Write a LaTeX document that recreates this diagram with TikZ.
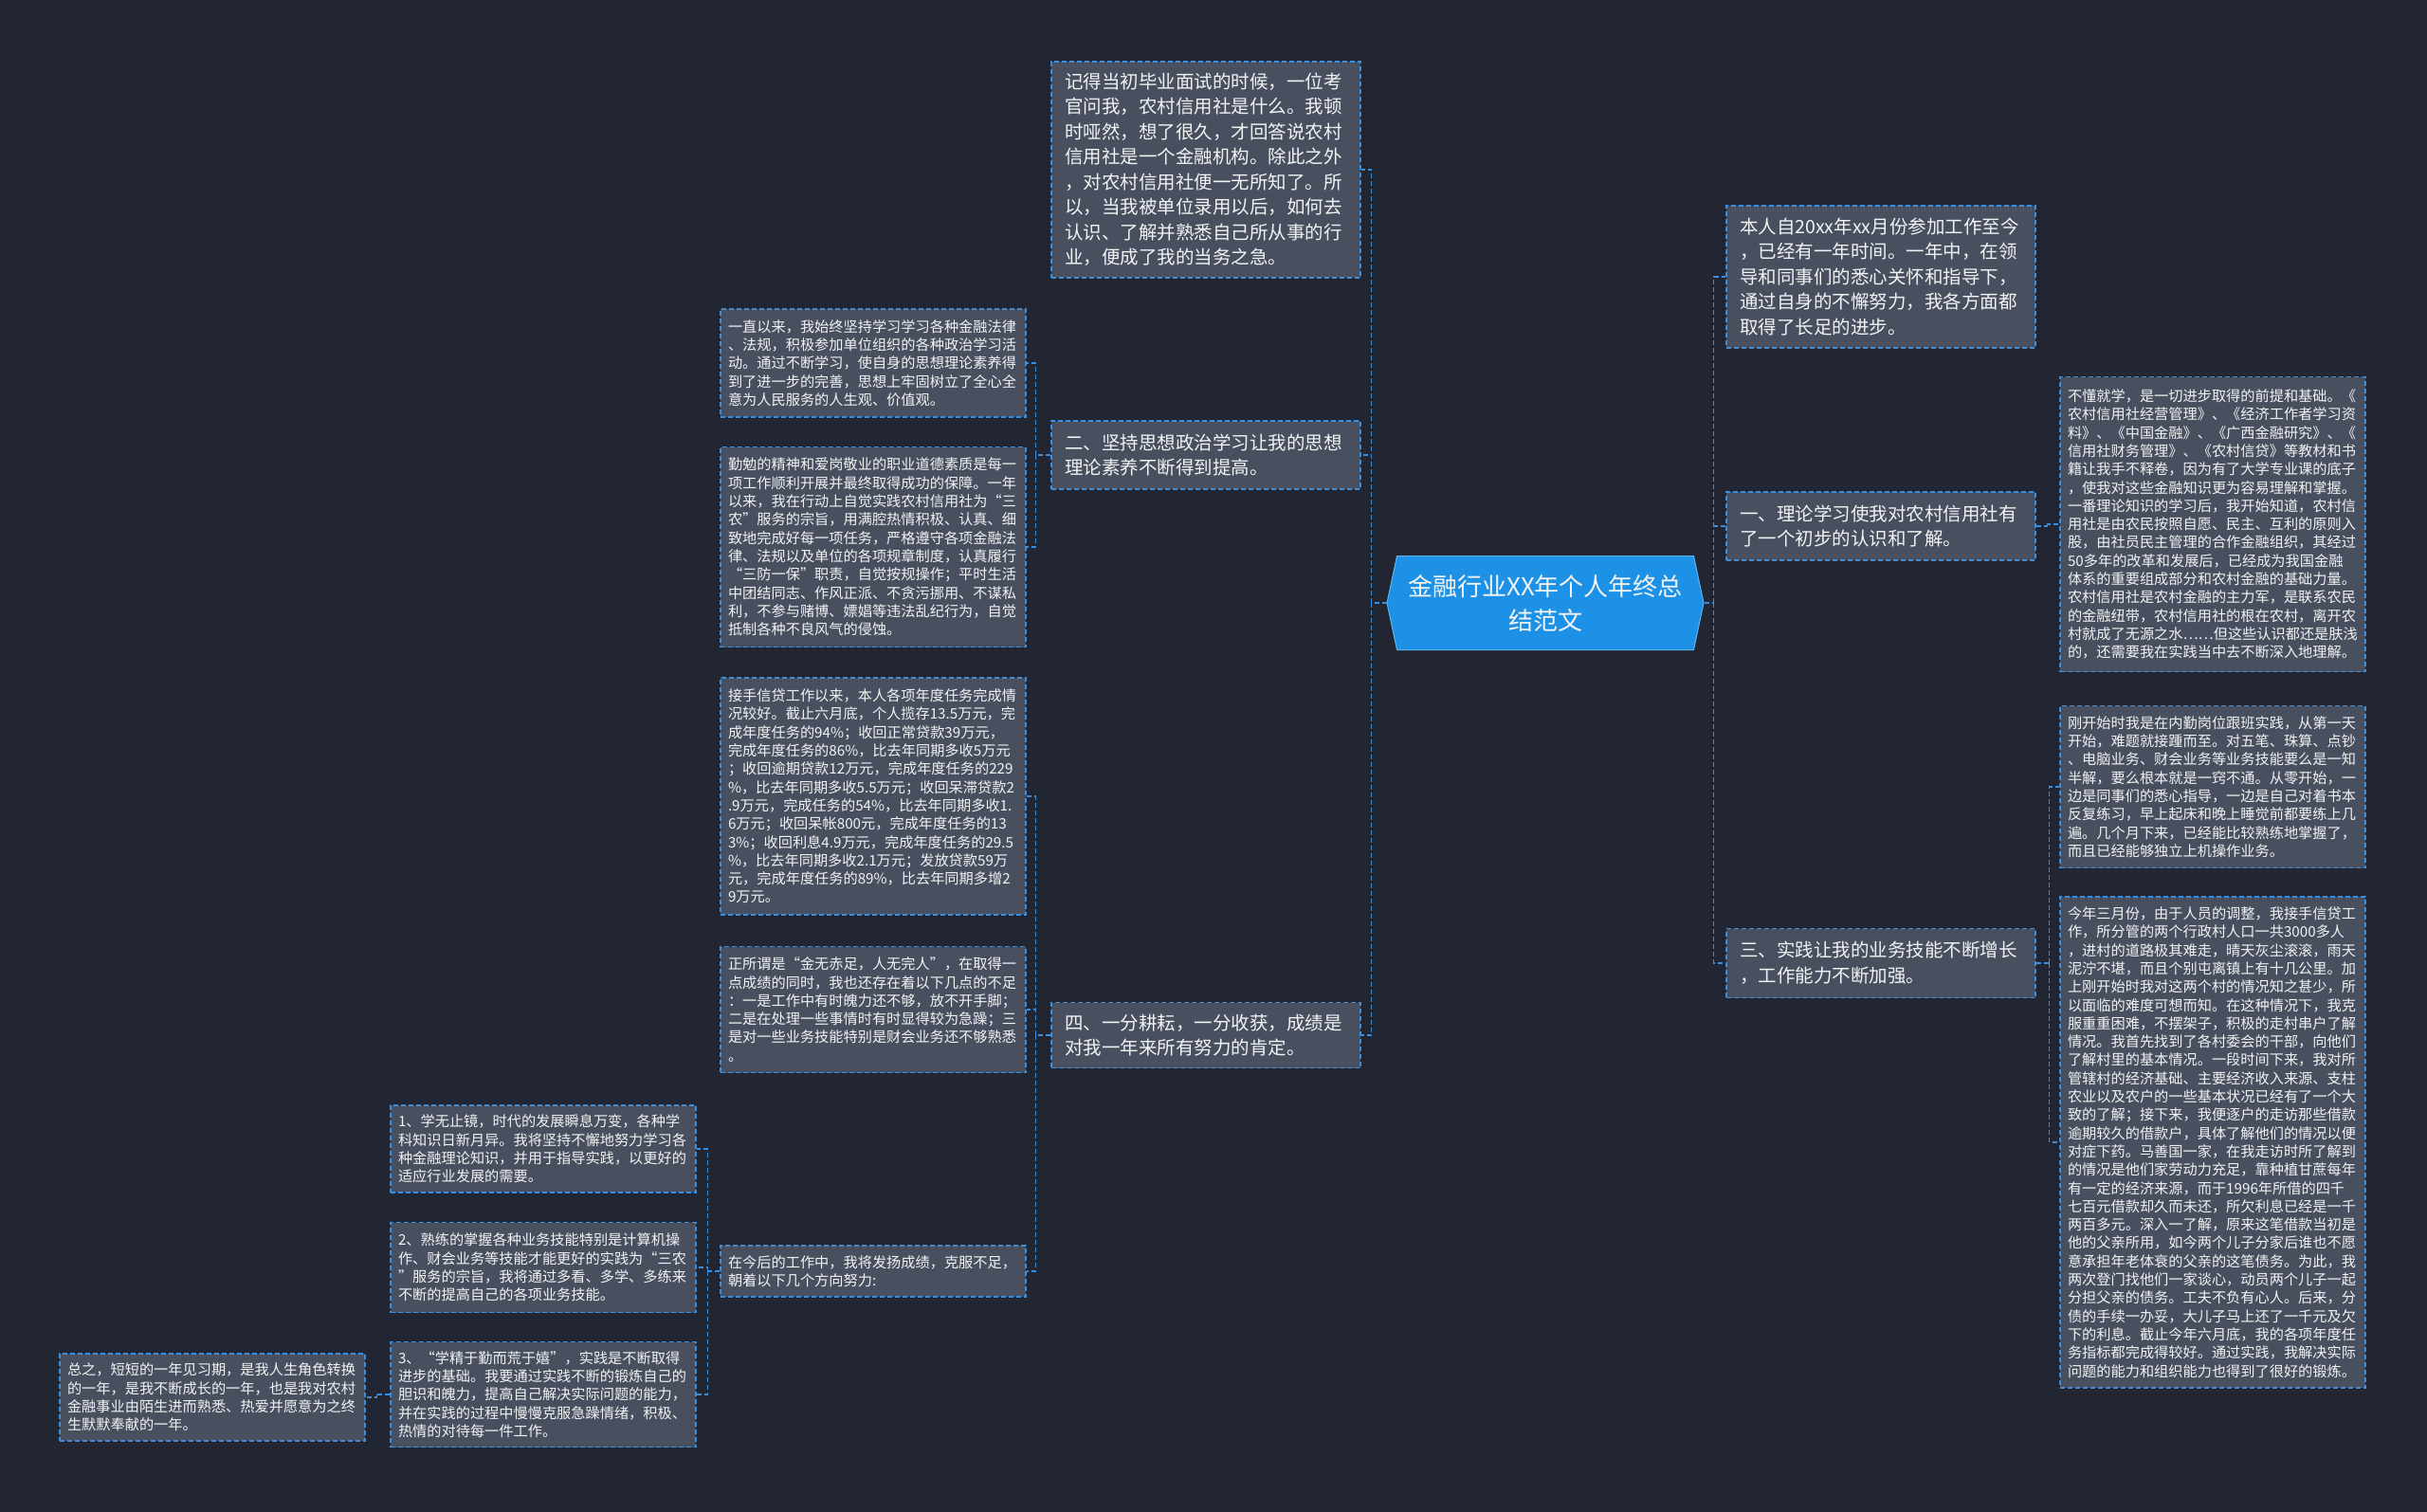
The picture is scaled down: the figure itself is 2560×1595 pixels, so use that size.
\documentclass[tikz,border=0pt]{standalone}
\usepackage{fontspec}
\setmainfont{Noto Sans CJK SC}
\usetikzlibrary{shapes.symbols}
\definecolor{bgnavy}{HTML}{222633}
\definecolor{boxgray}{HTML}{484F5E}
\definecolor{linkblue}{HTML}{3A8EDB}
\definecolor{rootblue}{HTML}{1D91E6}
\definecolor{txtwhite}{HTML}{F2F3F5}
\begin{document}
\begin{tikzpicture}[x=1pt,y=-1pt,
    bigbox/.style={draw=linkblue, line width=1.2pt, dash pattern=on 5pt off 3pt,
      fill=boxgray, text=txtwhite, align=left, inner xsep=14pt,
      text width=298pt, font=\fontsize{19.5}{26.5}\selectfont},
    smallbox/.style={draw=linkblue, line width=1.2pt, dash pattern=on 5pt off 3pt,
      fill=boxgray, text=txtwhite, align=left, inner xsep=8pt,
      text width=306pt, font=\fontsize{15.2}{19.3}\selectfont},
    link/.style={draw=linkblue, line width=1.5pt, dash pattern=on 5pt off 3pt}]
  \useasboundingbox (0,0) rectangle (2560,1595);
  \fill[bgnavy] (0,0) rectangle (2560,1595);

  % ROOT
  \node[shape=signal, signal to=west and east, signal pointer angle=156,
        fill=rootblue, draw=rootblue!70!white, line width=1pt,
        minimum width=334pt, minimum height=99pt, text=txtwhite, align=center,
        font=\fontsize{26}{36}\selectfont] (root) at (1630,636)
        {金融行业XX年个人年终总\\结范文};

  % LEFT SIDE
  \node[bigbox, minimum height=228pt] (intro) at (1272,179)
  {记得当初毕业面试的时候，一位考\\官问我，农村信用社是什么。我顿\\时哑然，想了很久，才回答说农村\\信用社是一个金融机构。除此之外\\，对农村信用社便一无所知了。所\\以，当我被单位录用以后，如何去\\认识、了解并熟悉自己所从事的行\\业，便成了我的当务之急。};
  \node[bigbox, minimum height=72pt] (two) at (1272,480)
  {二、坚持思想政治学习让我的思想\\理论素养不断得到提高。};
  \node[bigbox, minimum height=69pt] (four) at (1272,1092)
  {四、一分耕耘，一分收获，成绩是\\对我一年来所有努力的肯定。};

  \node[smallbox, minimum height=114pt] (study) at (921,383)
  {一直以来，我始终坚持学习学习各种金融法律\\、法规，积极参加单位组织的各种政治学习活\\动。通过不断学习，使自身的思想理论素养得\\到了进一步的完善，思想上牢固树立了全心全\\意为人民服务的人生观、价值观。};
  \node[smallbox, minimum height=211pt] (ethic) at (921,577)
  {勤勉的精神和爱岗敬业的职业道德素质是每一\\项工作顺利开展并最终取得成功的保障。一年\\以来，我在行动上自觉实践农村信用社为“三\\农”服务的宗旨，用满腔热情积极、认真、细\\致地完成好每一项任务，严格遵守各项金融法\\律、法规以及单位的各项规章制度，认真履行\\“三防一保”职责，自觉按规操作；平时生活\\中团结同志、作风正派、不贪污挪用、不谋私\\利，不参与赌博、嫖娼等违法乱纪行为，自觉\\抵制各种不良风气的侵蚀。};
  \node[smallbox, minimum height=250pt] (loans) at (921,840)
  {接手信贷工作以来，本人各项年度任务完成情\\况较好。截止六月底，个人揽存13.5万元，完\\成年度任务的94\%；收回正常贷款39万元，\\完成年度任务的86\%，比去年同期多收5万元\\；收回逾期贷款12万元，完成年度任务的229\\\%，比去年同期多收5.5万元；收回呆滞贷款2\\.9万元，完成任务的54\%，比去年同期多收1.\\6万元；收回呆帐800元，完成年度任务的13\\3\%；收回利息4.9万元，完成年度任务的29.5\\\%，比去年同期多收2.1万元；发放贷款59万\\元，完成年度任务的89\%，比去年同期多增2\\9万元。};
  \node[smallbox, minimum height=133pt] (flaws) at (921,1065)
  {正所谓是“金无赤足，人无完人”，在取得一\\点成绩的同时，我也还存在着以下几点的不足\\：一是工作中有时魄力还不够，放不开手脚；\\二是在处理一些事情时有时显得较为急躁；三\\是对一些业务技能特别是财会业务还不够熟悉\\。};
  \node[smallbox, minimum height=54pt] (plan) at (921,1341)
  {在今后的工作中，我将发扬成绩，克服不足，\\朝着以下几个方向努力:};

  \node[smallbox, minimum height=92pt] (aim1) at (573,1212)
  {1、学无止镜，时代的发展瞬息万变，各种学\\科知识日新月异。我将坚持不懈地努力学习各\\种金融理论知识，并用于指导实践，以更好的\\适应行业发展的需要。};
  \node[smallbox, minimum height=95pt] (aim2) at (573,1337)
  {2、熟练的掌握各种业务技能特别是计算机操\\作、财会业务等技能才能更好的实践为“三农\\”服务的宗旨，我将通过多看、多学、多练来\\不断的提高自己的各项业务技能。};
  \node[smallbox, minimum height=111pt] (aim3) at (573,1471)
  {3、“学精于勤而荒于嬉”，实践是不断取得\\进步的基础。我要通过实践不断的锻炼自己的\\胆识和魄力，提高自己解决实际问题的能力，\\并在实践的过程中慢慢克服急躁情绪，积极、\\热情的对待每一件工作。};
  \node[smallbox, minimum height=92pt] (sum) at (224,1474)
  {总之，短短的一年见习期，是我人生角色转换\\的一年，是我不断成长的一年，也是我对农村\\金融事业由陌生进而熟悉、热爱并愿意为之终\\生默默奉献的一年。};

  % RIGHT SIDE
  \node[bigbox, minimum height=150pt] (since) at (1984,292)
  {本人自20xx年xx月份参加工作至今\\，已经有一年时间。一年中，在领\\导和同事们的悉心关怀和指导下，\\通过自身的不懈努力，我各方面都\\取得了长足的进步。};
  \node[bigbox, minimum height=72pt] (one) at (1984,555)
  {一、理论学习使我对农村信用社有\\了一个初步的认识和了解。};
  \node[bigbox, minimum height=73pt] (three) at (1984,1016)
  {三、实践让我的业务技能不断增长\\，工作能力不断加强。};

  \node[smallbox, minimum height=311pt] (theory) at (2334,553)
  {不懂就学，是一切进步取得的前提和基础。《\\农村信用社经营管理》、《经济工作者学习资\\料》、《中国金融》、《广西金融研究》、《\\信用社财务管理》、《农村信贷》等教材和书\\籍让我手不释卷，因为有了大学专业课的底子\\，使我对这些金融知识更为容易理解和掌握。\\一番理论知识的学习后，我开始知道，农村信\\用社是由农民按照自愿、民主、互利的原则入\\股，由社员民主管理的合作金融组织，其经过\\50多年的改革和发展后，已经成为我国金融\\体系的重要组成部分和农村金融的基础力量。\\农村信用社是农村金融的主力军，是联系农民\\的金融纽带，农村信用社的根在农村，离开农\\村就成了无源之水……但这些认识都还是肤浅\\的，还需要我在实践当中去不断深入地理解。};
  \node[smallbox, minimum height=171pt] (desk) at (2334,830)
  {刚开始时我是在内勤岗位跟班实践，从第一天\\开始，难题就接踵而至。对五笔、珠算、点钞\\、电脑业务、财会业务等业务技能要么是一知\\半解，要么根本就是一窍不通。从零开始，一\\边是同事们的悉心指导，一边是自己对着书本\\反复练习，早上起床和晚上睡觉前都要练上几\\遍。几个月下来，已经能比较熟练地掌握了，\\而且已经能够独立上机操作业务。};
  \node[smallbox, minimum height=518pt] (credit) at (2334,1205)
  {今年三月份，由于人员的调整，我接手信贷工\\作，所分管的两个行政村人口一共3000多人\\，进村的道路极其难走，晴天灰尘滚滚，雨天\\泥泞不堪，而且个别屯离镇上有十几公里。加\\上刚开始时我对这两个村的情况知之甚少，所\\以面临的难度可想而知。在这种情况下，我克\\服重重困难，不摆架子，积极的走村串户了解\\情况。我首先找到了各村委会的干部，向他们\\了解村里的基本情况。一段时间下来，我对所\\管辖村的经济基础、主要经济收入来源、支柱\\农业以及农户的一些基本状况已经有了一个大\\致的了解；接下来，我便逐户的走访那些借款\\逾期较久的借款户，具体了解他们的情况以便\\对症下药。马善国一家，在我走访时所了解到\\的情况是他们家劳动力充足，靠种植甘蔗每年\\有一定的经济来源，而于1996年所借的四千\\七百元借款却久而未还，所欠利息已经是一千\\两百多元。深入一了解，原来这笔借款当初是\\他的父亲所用，如今两个儿子分家后谁也不愿\\意承担年老体衰的父亲的这笔债务。为此，我\\两次登门找他们一家谈心，动员两个儿子一起\\分担父亲的债务。工夫不负有心人。后来，分\\债的手续一办妥，大儿子马上还了一千元及欠\\下的利息。截止今年六月底，我的各项年度任\\务指标都完成得较好。通过实践，我解决实际\\问题的能力和组织能力也得到了很好的锻炼。};

  % LINKS
  \draw[link] (root.west) -- ++(-16,0) coordinate (rl);
  \draw[link] (rl) |- (intro.east);
  \draw[link] (rl) |- (two.east);
  \draw[link] (rl) |- (four.east);

  \draw[link] (root.east) -- ++(10,0) coordinate (rr);
  \draw[link] (rr) |- (since.west);
  \draw[link] (rr) |- (one.west);
  \draw[link] (rr) |- (three.west);

  \draw[link] (two.west) -- ++(-16,0) coordinate (tw);
  \draw[link] (tw) |- (study.east);
  \draw[link] (tw) |- (ethic.east);

  \draw[link] (four.west) -- ++(-16,0) coordinate (fw);
  \draw[link] (fw) |- (loans.east);
  \draw[link] (fw) |- (flaws.east);
  \draw[link] (fw) |- (plan.east);

  \draw[link] (plan.west) -- ++(-13,0) coordinate (pw);
  \draw[link] (pw) |- (aim1.east);
  \draw[link] (pw) |- (aim2.east);
  \draw[link] (pw) |- (aim3.east);

  \draw[link] (aim3.west) -- ++(-14,0) coordinate (aw);
  \draw[link] (aw) |- (sum.east);

  \draw[link] (one.east) -- ++(12,0) coordinate (ow);
  \draw[link] (ow) |- (theory.west);

  \draw[link] (three.east) -- ++(14,0) coordinate (hw);
  \draw[link] (hw) |- (desk.west);
  \draw[link] (hw) |- (credit.west);
\end{tikzpicture}
\end{document}
